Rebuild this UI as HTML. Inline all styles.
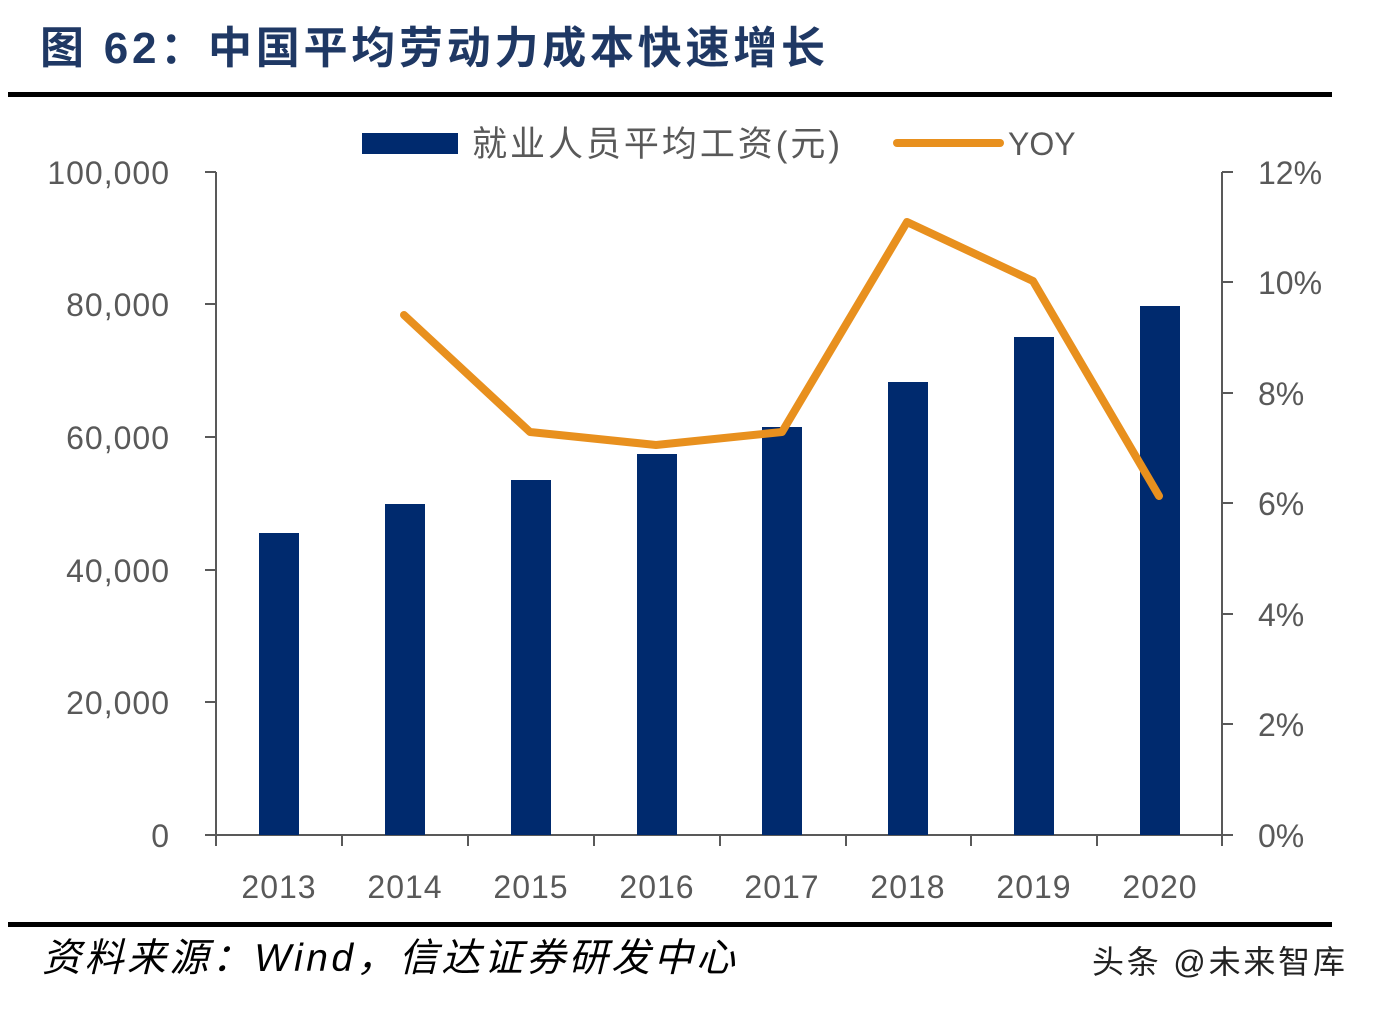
<!DOCTYPE html>
<html><head><meta charset="utf-8"><style>
html,body{margin:0;padding:0;background:#fff;}
body{width:1374px;height:1008px;overflow:hidden;}
</style></head><body>
<svg width="1374" height="1008" xmlns="http://www.w3.org/2000/svg" font-family="'Liberation Sans','Noto Sans CJK SC',sans-serif">
<text x="40" y="63" font-size="44" font-weight="bold" fill="#1f3864" textLength="785" lengthAdjust="spacing">图 62：中国平均劳动力成本快速增长</text>
<rect x="8" y="92" width="1324" height="5" fill="#000"/>
<rect x="362" y="133" width="96" height="21" fill="#002a6e"/>
<text x="472" y="156" font-size="35" fill="#595959" textLength="368" lengthAdjust="spacing">就业人员平均工资(元)</text>
<line x1="897" y1="143" x2="1000" y2="143" stroke="#e8901e" stroke-width="8" stroke-linecap="round"/>
<text x="1008" y="155" font-size="32" fill="#595959">YOY</text>
<g stroke="#595959" stroke-width="2" fill="none">
<line x1="216" y1="172" x2="216" y2="835"/>
<line x1="1222" y1="172" x2="1222" y2="835"/>
<line x1="205" y1="835" x2="1233" y2="835"/>
<line x1="205" y1="172" x2="216" y2="172"/><line x1="205" y1="304" x2="216" y2="304"/><line x1="205" y1="437" x2="216" y2="437"/><line x1="205" y1="570" x2="216" y2="570"/><line x1="205" y1="702" x2="216" y2="702"/>
<line x1="1222" y1="172" x2="1233" y2="172"/><line x1="1222" y1="282" x2="1233" y2="282"/><line x1="1222" y1="393" x2="1233" y2="393"/><line x1="1222" y1="503" x2="1233" y2="503"/><line x1="1222" y1="614" x2="1233" y2="614"/><line x1="1222" y1="724" x2="1233" y2="724"/>
<line x1="216" y1="835" x2="216" y2="846"/><line x1="342" y1="835" x2="342" y2="846"/><line x1="468" y1="835" x2="468" y2="846"/><line x1="594" y1="835" x2="594" y2="846"/><line x1="720" y1="835" x2="720" y2="846"/><line x1="846" y1="835" x2="846" y2="846"/><line x1="971" y1="835" x2="971" y2="846"/><line x1="1097" y1="835" x2="1097" y2="846"/><line x1="1222" y1="835" x2="1222" y2="846"/>
</g>
<g font-size="32" fill="#595959" text-anchor="end" letter-spacing="1">
<text x="170" y="184">100,000</text><text x="170" y="316">80,000</text><text x="170" y="449">60,000</text><text x="170" y="582">40,000</text><text x="170" y="714">20,000</text><text x="170" y="847">0</text>
</g>
<g font-size="32" fill="#595959">
<text x="1258" y="184">12%</text><text x="1258" y="294">10%</text><text x="1258" y="405">8%</text><text x="1258" y="515">6%</text><text x="1258" y="626">4%</text><text x="1258" y="736">2%</text><text x="1258" y="847">0%</text>
</g>
<g fill="#002a6e">
<rect x="259" y="533" width="40" height="302"/><rect x="385" y="504" width="40" height="331"/><rect x="511" y="480" width="40" height="355"/><rect x="637" y="454" width="40" height="381"/><rect x="762" y="427" width="40" height="408"/><rect x="888" y="382" width="40" height="453"/><rect x="1014" y="337" width="40" height="498"/><rect x="1140" y="306" width="40" height="529"/>
</g>
<g font-size="32" fill="#595959" text-anchor="middle" letter-spacing="1">
<text x="279" y="898">2013</text><text x="405" y="898">2014</text><text x="531" y="898">2015</text><text x="657" y="898">2016</text><text x="782" y="898">2017</text><text x="908" y="898">2018</text><text x="1034" y="898">2019</text><text x="1160" y="898">2020</text>
</g>
<polyline points="404,315 530,432 656,445 782,432 907,222 1033,281 1159,496" fill="none" stroke="#e8901e" stroke-width="8" stroke-linejoin="round" stroke-linecap="round"/>
<rect x="8" y="922" width="1324" height="5" fill="#000"/>
<text x="42" y="971" font-size="39" font-style="italic" fill="#000" textLength="693" lengthAdjust="spacing">资料来源：Wind，信达证券研发中心</text>
<text x="1092" y="973" font-size="32" fill="#222" textLength="253" lengthAdjust="spacing">头条 @未来智库</text>
</svg>
</body></html>
